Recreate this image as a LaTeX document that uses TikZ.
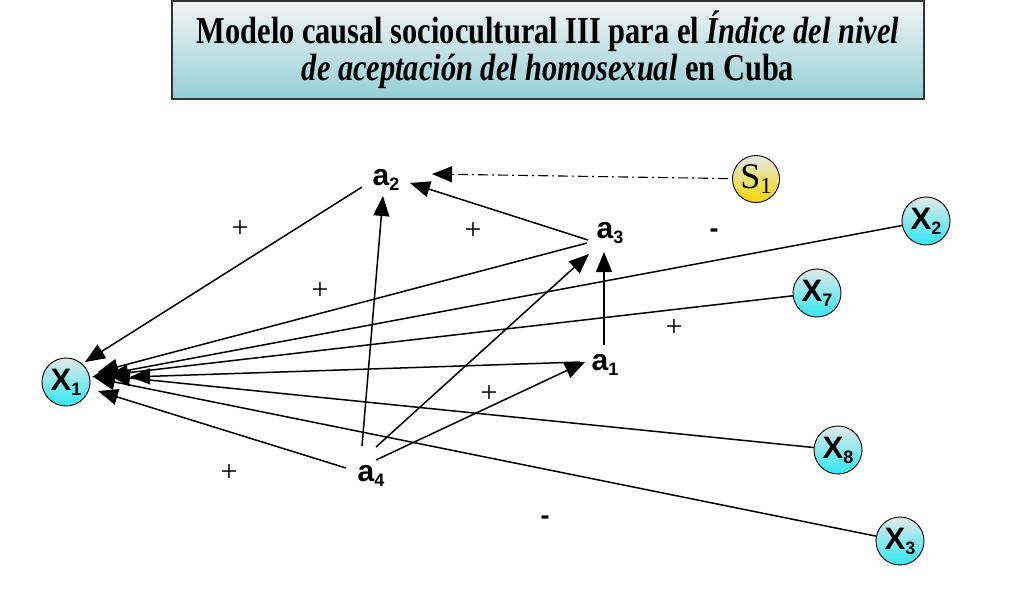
\documentclass[tikz,border=0pt]{standalone}
\usepackage{fontspec}
\setmainfont{Liberation Serif}
\newfontfamily\arialf{Liberation Sans}
\usepackage{tikz}
\usetikzlibrary{positioning,calc,arrows.meta}
\definecolor{boxtop}{HTML}{F4F4F4}
\definecolor{boxbot}{HTML}{93CFD6}
\definecolor{ballgray}{HTML}{E4E9E9}
\definecolor{ballcyan}{HTML}{30E8F4}
\definecolor{ballyel}{HTML}{F6D700}
\newcommand{\lowsub}[2][18]{\raisebox{-5pt}{\fontsize{#1}{#1}\selectfont #2}}

\tikzset{
  var/.style={font=\arialf\bfseries\fontsize{30}{30}\selectfont, inner sep=1pt},
  exo/.style={circle, draw=black, line width=0.9pt, minimum size=48pt, inner sep=0pt,
    top color=ballgray, bottom color=ballcyan, font=\arialf\bfseries\fontsize{31}{31}\selectfont},
  sitn/.style={circle, draw=black, line width=0.9pt, minimum size=47pt, inner sep=0pt,
    top color=ballgray, bottom color=ballyel, font=\fontsize{36}{36}\selectfont},
  arr/.style={-{Triangle[length=20pt,width=16pt]}, line width=1.5pt},
  plus/.style={font=\fontsize{30}{30}\selectfont, inner sep=0pt},
  minus/.style={font=\arialf\bfseries\fontsize{27}{27}\selectfont, inner sep=0pt}
}

\begin{document}
\begin{tikzpicture}[x=1pt,y=-1pt]
\useasboundingbox[fill=white] (0,0) rectangle (1024,606);

% titulo
\node[draw=black!80, line width=2pt, top color=boxtop, bottom color=boxbot,
  minimum width=752pt, minimum height=98pt, align=center,
  font=\bfseries\fontsize{38}{37}\selectfont] (titulo) at (548,50)
  {\scalebox{0.8}[1]{Modelo causal sociocultural III para el \textit{Índice del nivel}}\\
   \scalebox{0.8}[1]{\textit{de aceptación del homosexual} en Cuba}};

% variables
\node[exo] (X1) at (66,382) {X\lowsub{1}};
\node[exo] (X2) at (926,221) {X\lowsub{2}};
\node[exo] (X7) at (817,293) {X\lowsub{7}};
\node[exo] (X8) at (838,450) {X\lowsub{8}};
\node[exo] (X3) at (900,541) {X\lowsub{3}};
\node[sitn] (S1) at (756,179) {S\lowsub[23]{1}};

\node[var] (a2) at (386,180) {a\lowsub{2}};
\node[var] (a3) at (610,233) {a\lowsub{3}};
\node[var] (a1) at (605,365) {a\lowsub{1}};
\node[var] (a4) at (371,476) {a\lowsub{4}};

% flechas hacia X1
\draw[arr] ($(a2)+(-24,7)$) -- ($(X1)+(19,-20)$);
\draw[arr] ($(a3)+(-23,10)$) -- ($(X1)+(32,-10)$);
\draw[arr] (X2) -- ($(X1)+(26,-5)$);
\draw[arr] (X7) -- ($(X1)+(42,-7)$);
\draw[arr] ($(a1)+(-25,-3)$) -- ($(X1)+(64,-5)$);
\draw[arr] (X8) -- ($(X1)+(44,-6)$);
\draw[arr] (X3) -- ($(X1)+(29,-4)$);
\draw[arr] ($(a4)+(-25,-8)$) -- ($(X1)+(32,9)$);

% entre las a
\draw[arr] ($(a3)+(-22,7)$) -- ($(a2)+(24,3)$);
\draw[arr] ($(a1)+(-1,-20)$) -- ($(a3)+(-6,19)$);
\draw[arr] ($(a4)+(-9,-30)$) -- ($(a2)+(-3,16)$);
\draw[arr] ($(a4)+(5,-29)$) -- ($(a3)+(-21,21)$);
\draw[arr] ($(a4)+(5,-16)$) -- ($(a1)+(-20,-3)$);
\draw[-{Triangle[length=20pt,width=16pt]}, line width=1.1pt,
  dash pattern=on 10pt off 4pt on 2pt off 4pt, shorten <=4pt] (S1) -- ($(a2)+(46,-6)$);

% signos
\node[plus] (p1) at (240,229) {+};
\node[plus] (p2) at (473,231) {+};
\node[plus] (p3) at (320,291) {+};
\node[plus] (p4) at (674,328) {+};
\node[plus] (p5) at (489,394) {+};
\node[plus] (p6) at (229,473) {+};
\node[minus] (m1) at (714,233) {-};
\node[minus] (m2) at (545,520) {-};
\end{tikzpicture}
\end{document}
